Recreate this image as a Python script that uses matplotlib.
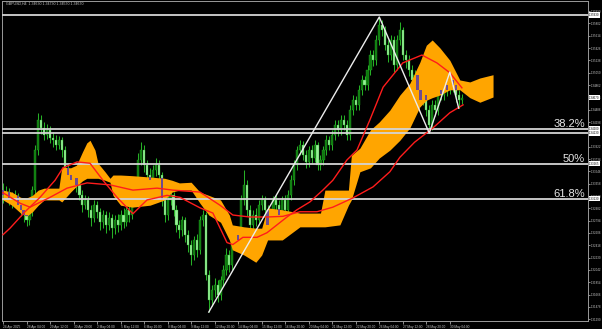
import numpy as np
import matplotlib
matplotlib.use("Agg")
import matplotlib.pyplot as plt
from matplotlib.transforms import blended_transform_factory

plt.rcParams["font.family"] = ["Liberation Sans", "DejaVu Sans"]

# ---- GBPUSD H4 candles ----
first_open = 1.3326
closes = [
    1.3318, 1.3323, 1.3314, 1.3311, 1.3317, 1.3303, 1.3296, 1.3288, 1.3280, 1.3293,
    1.3326, 1.3387, 1.3433, 1.3421, 1.3410, 1.3418, 1.3405, 1.3402, 1.3395, 1.3402,
    1.3387, 1.3360, 1.3349, 1.3341, 1.3344, 1.3334, 1.3318, 1.3303, 1.3311, 1.3296,
    1.3283, 1.3303, 1.3293, 1.3277, 1.3288, 1.3273, 1.3283, 1.3268, 1.3280, 1.3273,
    1.3288, 1.3277, 1.3296, 1.3288, 1.3311, 1.3334, 1.3372, 1.3387, 1.3364, 1.3349,
    1.3341, 1.3357, 1.3364, 1.3349, 1.3311, 1.3288, 1.3311, 1.3318, 1.3296, 1.3273,
    1.3265, 1.3280, 1.3258, 1.3243, 1.3227, 1.3250, 1.3235, 1.3280, 1.3288, 1.3197,
    1.3158, 1.3174, 1.3181, 1.3166, 1.3189, 1.3204, 1.3227, 1.3212, 1.3243, 1.3258,
    1.3250, 1.3311, 1.3334, 1.3296, 1.3273, 1.3288, 1.3280, 1.3303, 1.3311, 1.3296,
    1.3273, 1.3288, 1.3311, 1.3303, 1.3288, 1.3311, 1.3296, 1.3318, 1.3341, 1.3364,
    1.3387, 1.3395, 1.3379, 1.3369, 1.3387, 1.3375, 1.3395, 1.3364, 1.3372, 1.3387,
    1.3402, 1.3395, 1.3410, 1.3425, 1.3418, 1.3433, 1.3425, 1.3410, 1.3448, 1.3463,
    1.3456, 1.3479, 1.3494, 1.3486, 1.3509, 1.3532, 1.3524, 1.3555, 1.3578, 1.3570,
    1.3547, 1.3532, 1.3555, 1.3517, 1.3555, 1.3570, 1.3532, 1.3524, 1.3509, 1.3494,
    1.3502, 1.3479, 1.3463, 1.3471, 1.3448, 1.3425, 1.3456, 1.3448, 1.3479, 1.3471,
    1.3486, 1.3479, 1.3494, 1.3486, 1.3471, 1.3463, 1.3467,
]
highs = [
    1.3337, 1.3332, 1.3329, 1.3323, 1.3326, 1.3322, 1.3311, 1.3303, 1.3296, 1.3300,
    1.3332, 1.3395, 1.3444, 1.3441, 1.3430, 1.3427, 1.3424, 1.3415, 1.3410, 1.3408,
    1.3407, 1.3393, 1.3367, 1.3357, 1.3354, 1.3352, 1.3341, 1.3326, 1.3318, 1.3317,
    1.3303, 1.3311, 1.3309, 1.3299, 1.3296, 1.3294, 1.3293, 1.3290, 1.3288, 1.3290,
    1.3296, 1.3299, 1.3303, 1.3306, 1.3318, 1.3341, 1.3383, 1.3399, 1.3395, 1.3372,
    1.3360, 1.3364, 1.3375, 1.3372, 1.3354, 1.3318, 1.3317, 1.3326, 1.3323, 1.3303,
    1.3280, 1.3286, 1.3285, 1.3265, 1.3250, 1.3256, 1.3259, 1.3286, 1.3296, 1.3293,
    1.3204, 1.3181, 1.3192, 1.3189, 1.3195, 1.3212, 1.3238, 1.3235, 1.3250, 1.3265,
    1.3268, 1.3318, 1.3357, 1.3341, 1.3303, 1.3296, 1.3299, 1.3311, 1.3318, 1.3317,
    1.3303, 1.3296, 1.3317, 1.3318, 1.3311, 1.3317, 1.3318, 1.3326, 1.3349, 1.3372,
    1.3393, 1.3402, 1.3401, 1.3387, 1.3393, 1.3395, 1.3402, 1.3399, 1.3379, 1.3393,
    1.3410, 1.3408, 1.3418, 1.3433, 1.3433, 1.3441, 1.3441, 1.3433, 1.3456, 1.3471,
    1.3470, 1.3486, 1.3502, 1.3500, 1.3517, 1.3540, 1.3540, 1.3563, 1.3590, 1.3585,
    1.3576, 1.3555, 1.3563, 1.3561, 1.3563, 1.3582, 1.3575, 1.3540, 1.3532, 1.3517,
    1.3509, 1.3506, 1.3485, 1.3479, 1.3476, 1.3456, 1.3463, 1.3463, 1.3485, 1.3486,
    1.3494, 1.3494, 1.3506, 1.3500, 1.3491, 1.3479, 1.3473,
]
lows = [
    1.3306, 1.3311, 1.3303, 1.3299, 1.3305, 1.3296, 1.3286, 1.3277, 1.3271, 1.3273,
    1.3286, 1.3320, 1.3379, 1.3412, 1.3402, 1.3404, 1.3398, 1.3392, 1.3387, 1.3389,
    1.3376, 1.3349, 1.3338, 1.3332, 1.3334, 1.3323, 1.3311, 1.3293, 1.3297, 1.3285,
    1.3271, 1.3277, 1.3283, 1.3265, 1.3268, 1.3261, 1.3265, 1.3253, 1.3259, 1.3262,
    1.3265, 1.3268, 1.3271, 1.3277, 1.3282, 1.3305, 1.3326, 1.3364, 1.3354, 1.3338,
    1.3332, 1.3334, 1.3348, 1.3338, 1.3302, 1.3277, 1.3280, 1.3303, 1.3286, 1.3262,
    1.3253, 1.3256, 1.3247, 1.3232, 1.3212, 1.3220, 1.3224, 1.3229, 1.3271, 1.3189,
    1.3140, 1.3149, 1.3163, 1.3155, 1.3158, 1.3180, 1.3197, 1.3201, 1.3204, 1.3235,
    1.3241, 1.3243, 1.3303, 1.3286, 1.3262, 1.3265, 1.3271, 1.3273, 1.3296, 1.3286,
    1.3262, 1.3265, 1.3280, 1.3293, 1.3277, 1.3280, 1.3286, 1.3290, 1.3311, 1.3334,
    1.3357, 1.3379, 1.3372, 1.3360, 1.3361, 1.3367, 1.3369, 1.3357, 1.3357, 1.3364,
    1.3379, 1.3387, 1.3387, 1.3402, 1.3408, 1.3410, 1.3418, 1.3402, 1.3402, 1.3441,
    1.3448, 1.3448, 1.3471, 1.3479, 1.3479, 1.3502, 1.3515, 1.3517, 1.3547, 1.3561,
    1.3540, 1.3521, 1.3524, 1.3506, 1.3509, 1.3547, 1.3524, 1.3512, 1.3500, 1.3485,
    1.3486, 1.3470, 1.3454, 1.3456, 1.3439, 1.3413, 1.3418, 1.3439, 1.3441, 1.3463,
    1.3463, 1.3470, 1.3473, 1.3476, 1.3460, 1.3451, 1.3457,
]
opens = [first_open] + closes[:-1]

# ---- Ichimoku cloud (both spans, shifted ahead) ----
cloud_x = [0, 3, 6, 8, 10, 12, 14, 19, 20, 23, 25, 27, 28.5, 29.6, 31.3, 32.3, 34.7,
           36.4, 37.4, 40, 44, 50, 55, 57.5, 60, 64, 67, 70, 74, 77, 78, 82, 86, 88,
           90, 95, 101, 108, 109.5, 114.6, 117.5, 118.5, 121.4, 125, 128, 131.6, 135,
           138.4, 141.8, 144, 146, 148.6, 152, 155.4, 158.8, 162.2, 166.7]
cloud_top = [1.3326, 1.3323, 1.3315, 1.3314, 1.3318, 1.3326, 1.3329, 1.3329, 1.3361,
             1.3360, 1.3364, 1.3384, 1.3398, 1.3402, 1.3387, 1.3367, 1.3354, 1.3344,
             1.3349, 1.3349, 1.3348, 1.3346, 1.3344, 1.3341, 1.3337, 1.3338, 1.3323,
             1.3318, 1.3311, 1.3288, 1.3273, 1.3270, 1.3268, 1.3268, 1.3299, 1.3296,
             1.3291, 1.3291, 1.3326, 1.3326, 1.3326, 1.3379, 1.3390, 1.3418, 1.3430,
             1.3448, 1.3471, 1.3489, 1.3521, 1.3547, 1.3555, 1.3543, 1.3524, 1.3494,
             1.3491, 1.3497, 1.3502]
cloud_bottom = [1.3311, 1.3303, 1.3291, 1.3286, 1.3293, 1.3303, 1.3311, 1.3311, 1.3308,
                1.3323, 1.3332, 1.3340, 1.3344, 1.3344, 1.3344, 1.3344, 1.3341, 1.3338,
                1.3318, 1.3303, 1.3300, 1.3303, 1.3311, 1.3323, 1.3326, 1.3326, 1.3306,
                1.3288, 1.3277, 1.3250, 1.3235, 1.3227, 1.3216, 1.3227, 1.3250, 1.3250,
                1.3270, 1.3270, 1.3270, 1.3273, 1.3303, 1.3311, 1.3354, 1.3360, 1.3375,
                1.3387, 1.3402, 1.3421, 1.3453, 1.3463, 1.3467, 1.3471, 1.3479, 1.3479,
                1.3467, 1.3460, 1.3468]

# ---- two red moving averages ----
ma_fast_x = [0, 2.4, 7.5, 12.6, 17.7, 20.4, 25.2, 29.6, 34, 38.8, 44.2, 49, 55.8, 60.2,
             67, 71.4, 76.2, 78.2, 81.6, 86.4, 89.8, 93.2, 96.6, 100, 104.4, 108.8,
             112.2, 117, 120.4, 124.8, 129.3, 136, 142.5, 147.6, 152, 156.1]
ma_fast = [1.3258, 1.3268, 1.3293, 1.3315, 1.3341, 1.3360, 1.3369, 1.3367, 1.3341,
           1.3315, 1.3290, 1.3311, 1.3318, 1.3315, 1.3299, 1.3291, 1.3246, 1.3243,
           1.3254, 1.3254, 1.3261, 1.3273, 1.3285, 1.3296, 1.3308, 1.3326, 1.3341,
           1.3372, 1.3387, 1.3433, 1.3483, 1.3520, 1.3532, 1.3520, 1.3505, 1.3482]
ma_slow_x = [0, 5.8, 9.2, 16, 21.8, 28.6, 36.4, 44.2, 52.4, 57.8, 67, 73.8, 78.2, 84,
             89.8, 95.2, 101, 106.8, 112.2, 119, 125.9, 131.6, 135, 140, 146.3, 152, 156.5]
ma_slow = [1.3322, 1.3306, 1.3300, 1.3315, 1.3329, 1.3337, 1.3334, 1.3326, 1.3329,
           1.3326, 1.3323, 1.3303, 1.3288, 1.3285, 1.3285, 1.3286, 1.3293, 1.3293,
           1.3300, 1.3314, 1.3331, 1.3354, 1.3376, 1.3399, 1.3421, 1.3444, 1.3456]

# ---- zigzag and levels ----
zigzag_x = [70, 128, 145, 152, 155]
zigzag_y = [1.3140, 1.3590, 1.3413, 1.3506, 1.3451]
fib_high = 1.3593
fib_low = 1.3140
fib_ratios = [0.382, 0.5, 0.618]
fib_labels = ["38.2%", "50%", "61.8%"]
swing_line = 1.3413
bid_price = 1.34670
title_text = "GBPUSD,H4  1.34630 1.34730 1.34570 1.34670"

date_pos = [0, 8, 16, 24, 32, 40, 48, 56, 64, 72, 80, 88, 96, 104, 112, 120, 128,
            136, 144, 152]
date_labels = ["24 Apr 2025", "28 Apr 04:00", "29 Apr 12:00", "30 Apr 20:00",
               "2 May 04:00", "5 May 12:00", "6 May 20:00", "8 May 04:00",
               "9 May 12:00", "12 May 20:00", "14 May 04:00", "15 May 12:00",
               "16 May 20:00", "20 May 04:00", "21 May 12:00", "22 May 20:00",
               "26 May 04:00", "27 May 12:00", "28 May 20:00", "30 May 04:00"]
price_ticks = [1.31290, 1.31478, 1.31666, 1.31854, 1.32042, 1.32230, 1.32418,
               1.32606, 1.32794, 1.32982, 1.33170, 1.33358, 1.33546, 1.33734,
               1.33922, 1.34110, 1.34298, 1.34486, 1.34674, 1.34862, 1.35050,
               1.35238, 1.35426, 1.35614, 1.35802, 1.35990]

BULL = "#0e780e"
BEAR = "#98f098"
WICK = "#26b026"
CLOUD = "#ffa500"
PURPLE = "#6f4b90"
RED = "#ff1c1c"
LINE = "#d4d4d4"
TXT = "#c8c8c8"

W, H = 602, 329
fig = plt.figure(figsize=(W / 100, H / 100), dpi=100, facecolor="black")
ax = fig.add_axes([2 / W, (H - 321) / H, 586 / W, 320 / H], facecolor="black")

x = np.arange(len(closes))
o = np.array(opens)
c = np.array(closes)
h = np.array(highs)
l = np.array(lows)
bull = c >= o
body = np.maximum(np.abs(c - o), 0.00004)

ax.vlines(x, l, h, color=WICK, lw=0.75, zorder=2)
ax.bar(x[bull], body[bull], bottom=o[bull], width=0.74, color=BULL,
       edgecolor=WICK, lw=0.25, zorder=2.1)
ax.bar(x[~bull], body[~bull], bottom=c[~bull], width=0.74, color=BEAR,
       edgecolor=WICK, lw=0.25, zorder=2.1)

ax.fill_between(cloud_x, cloud_bottom, cloud_top, color=CLOUD, lw=0, zorder=3)

# bearish bodies showing through the cloud
top_i = np.interp(x, cloud_x, cloud_top)
bot_i = np.interp(x, cloud_x, cloud_bottom)
lo = np.maximum(c, bot_i)
hi = np.minimum(o, top_i)
m = (~bull) & (hi > lo)
ax.bar(x[m], (hi - lo)[m], bottom=lo[m], width=0.74, color=PURPLE, lw=0, zorder=3.5)

ax.plot(ma_slow_x, ma_slow, color=RED, lw=1.0, zorder=5)
ax.plot(ma_fast_x, ma_fast, color=RED, lw=1.0, zorder=5)

trans = blended_transform_factory(ax.transAxes, ax.transData)
ax.axhline(fib_high, color=LINE, lw=1.3, zorder=4)
ax.axhline(swing_line, color=LINE, lw=1.3, zorder=4)
for r, lab in zip(fib_ratios, fib_labels):
    lvl = fib_high - r * (fib_high - fib_low)
    ax.axhline(lvl, color=LINE, lw=1.3, zorder=4)
    ax.text(0.995, lvl, lab, transform=trans, ha="right", va="bottom",
            fontsize=8, color="#e6e6e6", zorder=7)

ax.plot(zigzag_x, zigzag_y, color="#ececec", lw=1.0, zorder=6)

# price boxes on the right scale
box_prices = [fib_high, bid_price, swing_line] + [fib_high - r * (fib_high - fib_low) for r in fib_ratios]
for p in box_prices:
    ax.text(1.002, p, f"{p:.5f}", transform=trans, ha="left", va="center",
            fontsize=2.1, color="black", clip_on=False, zorder=8,
            bbox=dict(boxstyle="square,pad=0.2", fc="white", ec="none"))

ax.set_xlim(-0.34, 199.0)
ax.set_ylim(1.31264, 1.36144)

ax.yaxis.tick_right()
ax.set_yticks(price_ticks)
ax.set_yticklabels([f"{v:.5f}" for v in price_ticks])
ax.set_xticks(date_pos)
ax.set_xticklabels(date_labels, ha="left")
ax.tick_params(axis="y", labelsize=2.1, colors=TXT, length=1.5, width=0.5, pad=0.6)
ax.tick_params(axis="x", labelsize=2.3, colors=TXT, length=2, width=0.5, pad=0.8)

for s in ax.spines.values():
    s.set_color("#9a9a9a")
    s.set_linewidth(0.7)

fig.text(6 / W, 1 - 4 / H, title_text, fontsize=2.6, color=TXT, va="center")

fig.savefig("out.png", dpi=100, facecolor="black")
